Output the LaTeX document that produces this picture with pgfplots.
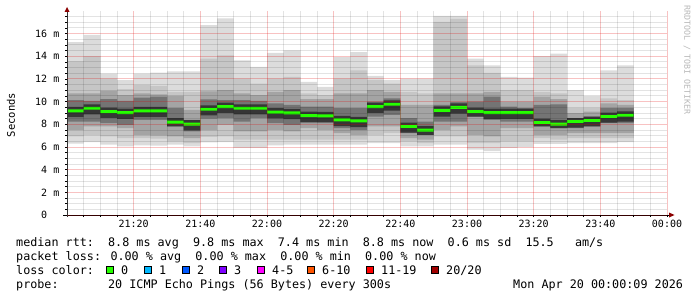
\documentclass[border=0pt]{standalone}
\usepackage{fontspec}
\setmainfont{DejaVu Sans Mono}
\usepackage{pgfplots}
\pgfplotsset{compat=1.18}
\usepackage{pgfplotstable}
\usepgfplotslibrary{fillbetween}

\definecolor{sA}{HTML}{DCDCDC}
\definecolor{sB}{HTML}{C6C6C6}
\definecolor{sC}{HTML}{A4A4A4}
\definecolor{sD}{HTML}{747474}
\definecolor{sE}{HTML}{363636}
\definecolor{med}{HTML}{26FF00}
\definecolor{arrowred}{HTML}{8B0000}
\definecolor{mgrid}{HTML}{E00000}
\definecolor{ngrid}{HTML}{000000}
\definecolor{lc0}{HTML}{26FF00}
\definecolor{lc1}{HTML}{00B8FF}
\definecolor{lc2}{HTML}{0059FF}
\definecolor{lc3}{HTML}{7E00FF}
\definecolor{lc4}{HTML}{FF00FF}
\definecolor{lc5}{HTML}{FF5500}
\definecolor{lc6}{HTML}{FF0000}
\definecolor{lc7}{HTML}{A10000}

% t = minutes after 21:00, values in ms
\pgfplotstableread{
t   min  lo2  lo3  lo4  med  hi4   hi3   hi2   max
0   6.30 6.94 7.52 8.25 9.18 10.14 10.73 13.56 15.25
5   6.44 7.08 7.81 8.25 9.42 10.06 10.73 14.02 15.89
10  6.21 6.94 7.81 8.10 9.12 10.23 10.96 12.04 12.48
15  6.06 6.79 7.67 7.96 9.04 10.06 10.58 11.11 11.89
20  6.15 6.79 7.08 8.39 9.18 10.35 10.73 11.46 12.48
25  6.12 6.73 7.02 8.39 9.18 10.44 10.64 11.40 12.56
30  6.21 6.50 6.94 7.81 8.19 9.42  10.52 10.87 12.68
35  6.06 6.35 6.79 7.37 8.02 8.39  9.27  10.87 12.68
40  6.40 6.90 7.50 8.50 9.33 10.20 10.90 13.79 16.76
45  6.44 6.94 7.96 8.54 9.56 10.14 11.02 14.08 17.35
50  5.92 6.64 7.37 8.25 9.42 10.14 10.73 12.04 13.64
55  5.92 6.64 7.37 8.54 9.42 10.06 10.58 11.60 13.06
60  6.15 6.64 7.52 8.10 9.07 9.85  10.87 12.04 14.31
65  6.21 6.64 7.37 7.96 9.01 9.71  11.02 12.18 14.52
70  6.21 6.64 7.67 8.10 8.77 9.56  10.23 10.73 11.75
75  6.21 6.64 7.52 8.10 8.74 9.56  10.23 10.58 11.31
80  6.21 6.64 7.23 7.67 8.39 9.42  10.73 12.04 13.93
85  6.21 6.64 7.08 7.52 8.31 9.42  10.73 12.77 14.37
90  6.35 7.08 7.81 8.69 9.56 10.00 11.02 11.89 12.27
95  6.35 7.23 7.81 8.83 9.77 10.29 10.87 11.60 11.89
100 6.06 6.50 6.79 7.23 7.81 8.54  9.71  10.87 12.04
105 6.06 6.35 6.64 7.08 7.49 8.25  9.71  10.73 12.04
110 6.21 6.94 7.52 8.25 9.24 9.71  10.73 17.05 17.58
115 6.21 6.94 7.81 8.25 9.50 9.95  10.73 17.30 17.58
120 5.77 6.35 7.08 8.69 9.12 10.00 10.73 13.21 13.79
125 5.63 6.35 6.94 8.39 9.04 10.44 10.87 12.54 13.21
130 5.92 6.50 7.67 8.25 9.04 9.56  10.00 11.02 12.18
135 5.98 6.50 7.67 8.25 9.04 9.42  10.00 11.02 12.13
140 6.27 6.79 7.08 7.81 8.16 9.71  10.44 10.87 14.02
145 6.27 6.64 7.08 7.67 8.02 9.77  10.23 10.73 14.23
150 6.35 6.79 7.23 7.67 8.25 8.54  8.98  9.42  11.02
155 6.35 6.79 7.23 7.81 8.34 8.69  9.12  9.42  10.52
160 6.35 6.79 7.23 8.10 8.69 9.42  9.85  10.29 12.77
165 6.44 6.79 7.23 8.10 8.80 9.42  9.71  10.14 13.21
170 6.44 6.79 7.23 8.10 8.80 9.42  9.71  10.14 13.21
}\smoke

\newcommand\legfont{\fontsize{11.75bp}{14bp}\selectfont}
\newcommand\tickfont{\fontsize{10bp}{12bp}\selectfont}

\begin{document}
\begin{tikzpicture}[x=1bp,y=1bp]
\begin{axis}[
  at={(67bp,82bp)}, anchor=south west,
  scale only axis, width=600bp, height=204bp,
  xmin=0, xmax=180, ymin=0, ymax=18,
  axis on top,
  axis line style={draw=none},
  tick align=outside, tick pos=left,
  major tick length=2bp, minor tick length=2bp,
  every tick/.style={black, line width=0.8bp, opacity=1},
  xtick={20,40,...,180},
  xticklabels={21:20,21:40,22:00,22:20,22:40,23:00,23:20,23:40,00:00},
  minor xtick={5,10,15,25,30,35,45,50,55,65,70,75,85,90,95,105,110,115,125,130,135,145,150,155,165,170,175},
  ytick={0,2,...,16},
  yticklabels={{0\hphantom{ m}},{2 m},{4 m},{6 m},{8 m},{10 m},{12 m},{14 m},{16 m}},
  minor ytick={0.5,1,1.5,2.5,3,3.5,4.5,5,5.5,6.5,7,7.5,8.5,9,9.5,10.5,11,11.5,12.5,13,13.5,14.5,15,15.5,16.5,17,17.5},
  grid=both,
  major grid style={mgrid, opacity=0.24, line width=1bp},
  minor grid style={ngrid, opacity=0.11, line width=1bp},
  tick label style={font=\tickfont, inner sep=0pt},
  xticklabel style={anchor=north, yshift=-3bp},
  yticklabel style={anchor=east, xshift=-5.5bp},
]
% smoke bands
\addplot[name path=aH, draw=none, const plot] table[x=t, y=max] {\smoke};
\addplot[name path=aL, draw=none, const plot] table[x=t, y=min] {\smoke};
\addplot[fill=sA, draw=none] fill between[of=aH and aL];
\addplot[name path=bH, draw=none, const plot] table[x=t, y=hi2] {\smoke};
\addplot[name path=bL, draw=none, const plot] table[x=t, y=lo2] {\smoke};
\addplot[fill=sB, draw=none] fill between[of=bH and bL];
\addplot[name path=cH, draw=none, const plot] table[x=t, y=hi3] {\smoke};
\addplot[name path=cL, draw=none, const plot] table[x=t, y=lo3] {\smoke};
\addplot[fill=sC, draw=none] fill between[of=cH and cL];
\addplot[name path=dH, draw=none, const plot] table[x=t, y=hi4] {\smoke};
\addplot[name path=dL, draw=none, const plot] table[x=t, y=lo4] {\smoke};
\addplot[fill=sD, draw=none] fill between[of=dH and dL];
\addplot[name path=eH, draw=none, const plot] table[x=t, y expr={min(\thisrow{med}+0.35,\thisrow{hi4})}] {\smoke};
\addplot[name path=eL, draw=none, const plot] table[x=t, y expr={max(\thisrow{med}-0.55,\thisrow{lo4})}] {\smoke};
\addplot[fill=sE, draw=none] fill between[of=eH and eL];
% median
\addplot[name path=mH, draw=none, const plot] table[x=t, y expr={\thisrow{med}+0.13}] {\smoke};
\addplot[name path=mL, draw=none, const plot] table[x=t, y expr={\thisrow{med}-0.13}] {\smoke};
\addplot[fill=med, draw=none] fill between[of=mH and mL];
\end{axis}
% axis lines and arrows
\draw[line width=1bp, black] (63,82) -- (670,82);
\fill[arrowred] (669,79.5) -- (674.5,82) -- (669,84.5) -- cycle;
\draw[line width=1bp, black!80] (67,80) -- (67,286);
\fill[arrowred] (64.5,285) -- (67,290) -- (69.5,285) -- cycle;
% labels
\node[rotate=90, font=\fontsize{10.5bp}{12bp}\selectfont, inner sep=0] at (11,182) {Seconds};
\node[rotate=-90, font=\fontsize{8.3bp}{10bp}\selectfont, text=black!28, inner sep=0] at (687,237) {RRDTOOL / TOBI OETIKER};
% legend text
\node[anchor=base west, inner sep=0, font=\legfont] at (16,51) {median rtt:~~8.8 ms avg~~9.8 ms max~~7.4 ms min~~8.8 ms now~~0.6 ms sd~~15.5~~~am/s};
\node[anchor=base west, inner sep=0, font=\legfont] at (16,36.8) {packet loss: 0.00 \% avg~~0.00 \% max~~0.00 \% min~~0.00 \% now};
\node[anchor=base west, inner sep=0, font=\legfont] at (16,22.5) {loss color:};
\filldraw[fill=lc0, draw=black, line width=1bp] (106.5,23.5) rectangle (113.5,30.5);
\node[anchor=base west, inner sep=0, font=\legfont] at (121,22.5) {0};
\filldraw[fill=lc1, draw=black, line width=1bp] (144.5,23.5) rectangle (151.5,30.5);
\node[anchor=base west, inner sep=0, font=\legfont] at (159,22.5) {1};
\filldraw[fill=lc2, draw=black, line width=1bp] (182.5,23.5) rectangle (189.5,30.5);
\node[anchor=base west, inner sep=0, font=\legfont] at (197,22.5) {2};
\filldraw[fill=lc3, draw=black, line width=1bp] (219.5,23.5) rectangle (226.5,30.5);
\node[anchor=base west, inner sep=0, font=\legfont] at (234,22.5) {3};
\filldraw[fill=lc4, draw=black, line width=1bp] (257.5,23.5) rectangle (264.5,30.5);
\node[anchor=base west, inner sep=0, font=\legfont] at (272,22.5) {4-5};
\filldraw[fill=lc5, draw=black, line width=1bp] (307.5,23.5) rectangle (314.5,30.5);
\node[anchor=base west, inner sep=0, font=\legfont] at (322,22.5) {6-10};
\filldraw[fill=lc6, draw=black, line width=1bp] (366.5,23.5) rectangle (373.5,30.5);
\node[anchor=base west, inner sep=0, font=\legfont] at (381,22.5) {11-19};
\filldraw[fill=lc7, draw=black, line width=1bp] (431.5,23.5) rectangle (438.5,30.5);
\node[anchor=base west, inner sep=0, font=\legfont] at (446,22.5) {20/20};
\node[anchor=base west, inner sep=0, font=\legfont] at (16,8.2) {probe:~~~~~~~20 ICMP Echo Pings (56 Bytes) every 300s};
\node[anchor=base west, inner sep=0, font=\legfont] at (513,8.2) {Mon Apr 20 00:00:09 2026};
\pgfresetboundingbox
\path[use as bounding box] (0,0) rectangle (697,297);
\end{tikzpicture}
\end{document}
